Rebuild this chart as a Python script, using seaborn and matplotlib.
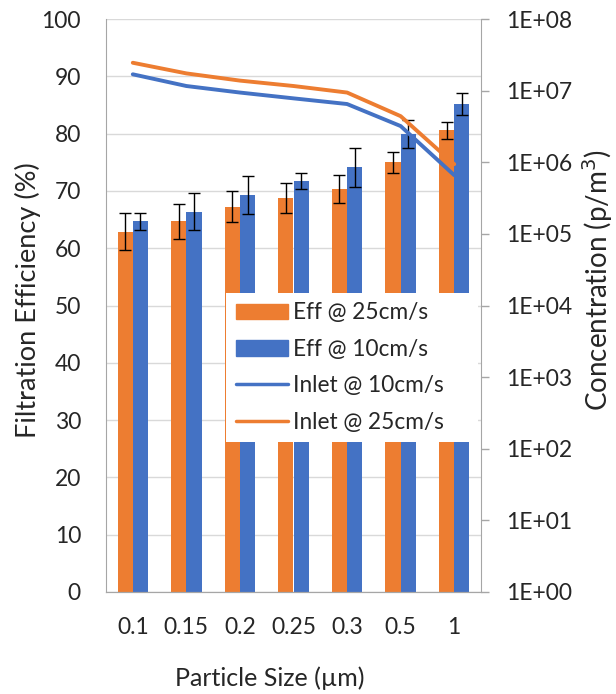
import numpy as np
import pandas as pd
import seaborn as sns
import matplotlib.pyplot as plt
from matplotlib.ticker import FuncFormatter, NullLocator
from matplotlib.lines import Line2D
from matplotlib.patches import Patch

# data
sizes = ["0.1", "0.15", "0.2", "0.25", "0.3", "0.5", "1"]
eff_25 = [62.9, 64.7, 67.2, 68.8, 70.3, 75.0, 80.6]
eff_10 = [64.7, 66.4, 69.3, 71.7, 74.1, 80.0, 85.1]
err_25 = [3.2, 3.05, 2.7, 2.6, 2.45, 1.8, 1.5]
err_10 = [1.45, 3.15, 3.25, 1.4, 3.35, 2.45, 1.9]
inlet_10 = [1.69e7, 1.16e7, 9.4e6, 7.8e6, 6.5e6, 3.2e6, 6.6e5]
inlet_25 = [2.45e7, 1.74e7, 1.38e7, 1.16e7, 9.4e6, 4.4e6, 9.4e5]

orange = "#ED7D31"
blue = "#4472C4"
grey = "#a6a6a6"
fs = 16.5

sns.set_style("white")
plt.rcParams["font.family"] = ["Lato", "DejaVu Sans"]
plt.rcParams["font.size"] = fs

df = pd.DataFrame({
    "size": sizes * 2,
    "eff": eff_25 + eff_10,
    "series": ["Eff @ 25cm/s"] * len(sizes) + ["Eff @ 10cm/s"] * len(sizes),
})

fig = plt.figure(figsize=(6.16, 6.94), dpi=100)
ax = fig.add_axes([106 / 616, 1 - 592 / 694, 375 / 616, 573 / 694])

sns.barplot(data=df, x="size", y="eff", hue="series",
            hue_order=["Eff @ 25cm/s", "Eff @ 10cm/s"],
            palette=[orange, blue], width=0.57, gap=0,
            errorbar=None, saturation=1, linewidth=0, legend=False, ax=ax)

# error bars on bar centres
for cont, errs in zip(ax.containers, [err_25, err_10]):
    xs = [b.get_x() + b.get_width() / 2 for b in cont]
    ys = [b.get_height() for b in cont]
    ax.errorbar(xs, ys, yerr=errs, fmt="none", ecolor="black",
                elinewidth=1, capsize=4.5, capthick=1, zorder=5)

ax.set_ylim(0, 100)
ax.set_yticks(range(0, 101, 10))
ax.set_xlim(-0.5, len(sizes) - 0.5)
ax.yaxis.grid(True, color="#d9d9d9", linewidth=1)
ax.set_axisbelow(True)
ax.tick_params(axis="both", length=0, pad=18, labelsize=fs)
ax.set_xlabel("Particle Size (µm)", fontsize=18, va="center")
ax.xaxis.set_label_coords(0.437, -0.150)
ax.set_ylabel("Filtration Efficiency (%)", fontsize=19.5, va="center")
ax.yaxis.set_label_coords(-0.208, 0.51)
for side in ["left", "bottom"]:
    ax.spines[side].set_color(grey)
ax.spines["top"].set_visible(False)
ax.spines["right"].set_visible(False)

# secondary log axis for inlet concentration
ax2 = ax.twinx()
pos = np.arange(len(sizes))
sns.lineplot(x=pos, y=inlet_10, color=blue, linewidth=2.8, ax=ax2)
sns.lineplot(x=pos, y=inlet_25, color=orange, linewidth=2.8, ax=ax2)
ax2.set_yscale("log")
ax2.set_ylim(1, 1e8)
ax2.set_yticks([10.0 ** k for k in range(9)])
ax2.yaxis.set_minor_locator(NullLocator())
ax2.yaxis.set_major_formatter(FuncFormatter(lambda v, p: "1E+%02d" % round(np.log10(v))))
ax2.tick_params(axis="y", length=6, width=1, color=grey, pad=12, labelsize=fs)
ax2.set_ylabel("Concentration (p/m$^3$)", fontsize=20, va="center")
ax2.yaxis.set_label_coords(1.31, 0.545)
ax2.spines["right"].set_color(grey)
ax2.spines["left"].set_visible(False)
ax2.spines["top"].set_visible(False)
ax2.spines["bottom"].set_color(grey)

handles = [Patch(color=orange), Patch(color=blue),
           Line2D([], [], color=blue, linewidth=2.5),
           Line2D([], [], color=orange, linewidth=2.5)]
labels = ["Eff @ 25cm/s", "Eff @ 10cm/s", "Inlet @ 10cm/s", "Inlet @ 25cm/s"]
leg = ax2.legend(handles, labels, loc="upper left",
                 bbox_to_anchor=(0.32, 0.262, 0.672, 0.26), mode="expand",
                 frameon=True, framealpha=1, edgecolor="white", fancybox=False,
                 fontsize=16.3, handlelength=2.3, handleheight=0.7,
                 labelspacing=0.68, handletextpad=0.22, borderpad=0.42,
                 borderaxespad=0)
leg.get_frame().set_linewidth(0)

fig.savefig("out.png", dpi=100)
